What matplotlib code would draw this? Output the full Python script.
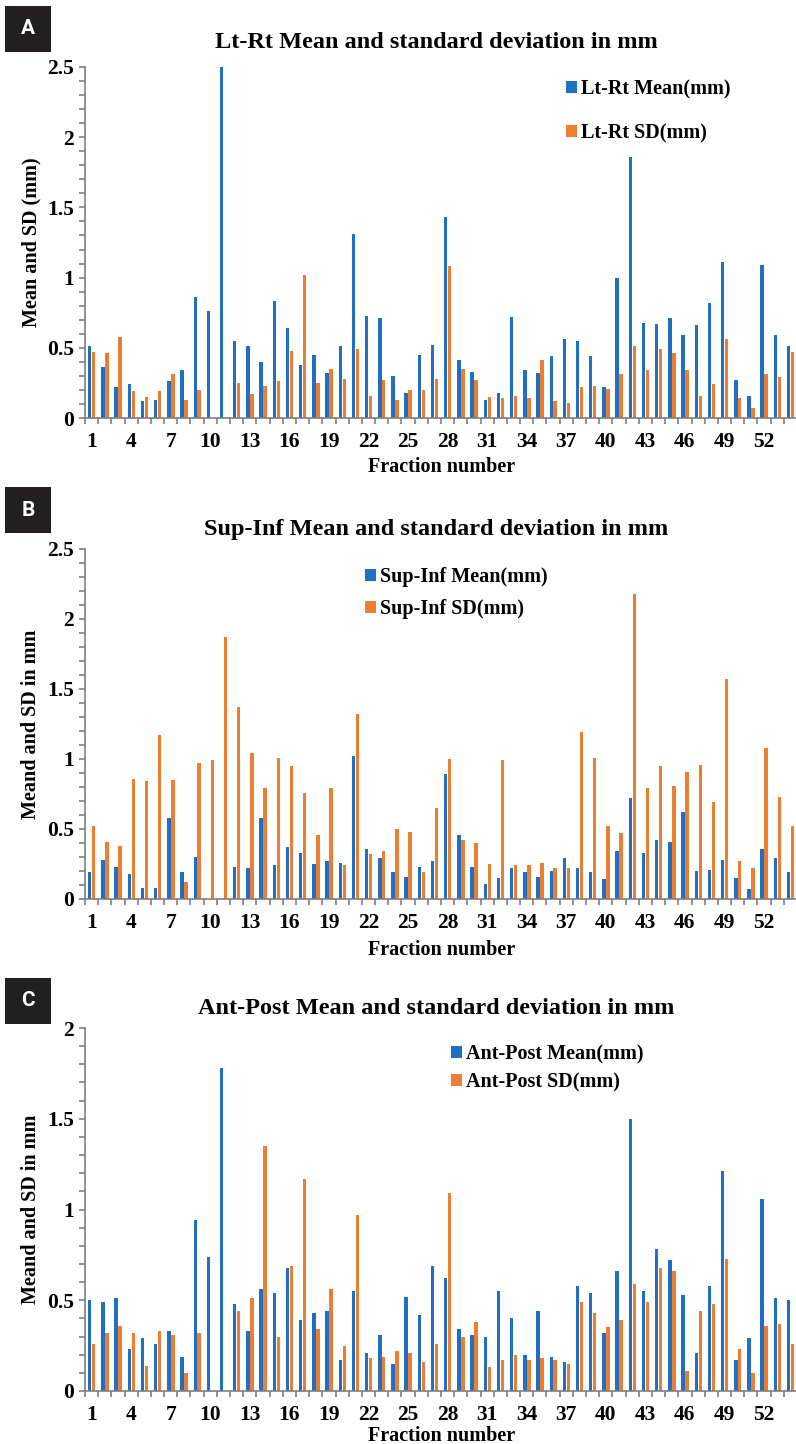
import matplotlib.pyplot as plt
import numpy as np
from matplotlib.patches import Rectangle
from matplotlib.ticker import MultipleLocator, FixedLocator, FuncFormatter

# Fraction numbers 1..54
fractions = list(range(1, 55))
tick_labels = [str(f) for f in range(1, 55, 3)]

# Panel A - Lt-Rt
ltrt_mean = [0.51, 0.36, 0.22, 0.24, 0.12, 0.13, 0.26, 0.34, 0.86, 0.76,
             2.50, 0.55, 0.51, 0.40, 0.83, 0.64, 0.38, 0.45, 0.32, 0.51,
             1.31, 0.73, 0.71, 0.30, 0.18, 0.45, 0.52, 1.43, 0.41, 0.33,
             0.13, 0.18, 0.72, 0.34, 0.32, 0.44, 0.56, 0.55, 0.44, 0.22,
             1.00, 1.86, 0.68, 0.67, 0.71, 0.59, 0.66, 0.82, 1.11, 0.27,
             0.16, 1.09, 0.59, 0.51]
ltrt_sd = [0.47, 0.46, 0.58, 0.19, 0.15, 0.19, 0.31, 0.13, 0.20, 0.0,
           0.0, 0.25, 0.17, 0.23, 0.26, 0.48, 1.02, 0.25, 0.35, 0.28,
           0.49, 0.16, 0.27, 0.13, 0.20, 0.20, 0.28, 1.08, 0.35, 0.27,
           0.15, 0.14, 0.16, 0.14, 0.41, 0.12, 0.11, 0.22, 0.23, 0.21,
           0.31, 0.51, 0.34, 0.49, 0.46, 0.34, 0.16, 0.24, 0.56, 0.14,
           0.07, 0.31, 0.29, 0.47]

# Panel B - Sup-Inf
supinf_mean = [0.19, 0.28, 0.23, 0.18, 0.08, 0.08, 0.58, 0.19, 0.30, 0.0,
               0.0, 0.23, 0.22, 0.58, 0.24, 0.37, 0.33, 0.25, 0.27, 0.26,
               1.02, 0.36, 0.29, 0.19, 0.16, 0.23, 0.27, 0.89, 0.46, 0.23,
               0.11, 0.15, 0.22, 0.19, 0.16, 0.20, 0.29, 0.22, 0.19, 0.14,
               0.34, 0.72, 0.33, 0.42, 0.41, 0.62, 0.20, 0.21, 0.28, 0.15,
               0.07, 0.36, 0.29, 0.19]
supinf_sd = [0.52, 0.41, 0.38, 0.86, 0.84, 1.17, 0.85, 0.12, 0.97, 0.99,
             1.87, 1.37, 1.04, 0.79, 1.01, 0.95, 0.76, 0.46, 0.79, 0.24,
             1.32, 0.32, 0.34, 0.50, 0.48, 0.19, 0.65, 1.00, 0.42, 0.40,
             0.25, 0.99, 0.24, 0.24, 0.26, 0.22, 0.22, 1.19, 1.01, 0.52,
             0.47, 2.18, 0.79, 0.95, 0.81, 0.91, 0.96, 0.69, 1.57, 0.27,
             0.22, 1.08, 0.73, 0.52]

# Panel C - Ant-Post
antpost_mean = [0.50, 0.49, 0.51, 0.23, 0.29, 0.26, 0.33, 0.19, 0.94, 0.74,
                1.78, 0.48, 0.33, 0.56, 0.54, 0.68, 0.39, 0.43, 0.44, 0.17,
                0.55, 0.21, 0.31, 0.15, 0.52, 0.42, 0.69, 0.62, 0.34, 0.31,
                0.30, 0.55, 0.40, 0.20, 0.44, 0.19, 0.16, 0.58, 0.54, 0.32,
                0.66, 1.50, 0.55, 0.78, 0.72, 0.53, 0.21, 0.58, 1.21, 0.17,
                0.29, 1.06, 0.51, 0.50]
antpost_sd = [0.26, 0.32, 0.36, 0.32, 0.14, 0.33, 0.31, 0.10, 0.32, 0.0,
              0.0, 0.44, 0.51, 1.35, 0.30, 0.69, 1.17, 0.34, 0.56, 0.25,
              0.97, 0.18, 0.19, 0.22, 0.21, 0.16, 0.26, 1.09, 0.30, 0.38,
              0.13, 0.17, 0.20, 0.17, 0.18, 0.17, 0.15, 0.49, 0.43, 0.35,
              0.39, 0.59, 0.49, 0.68, 0.66, 0.11, 0.44, 0.48, 0.73, 0.23,
              0.10, 0.36, 0.37, 0.26]

BLUE = '#1f6fc5'
ORANGE = '#ed7d31'
GREY = '#7f7f7f'
SERIF = 'Liberation Serif'

W, H = 796, 1444
fig = plt.figure(figsize=(W / 100, H / 100), dpi=100)


def px(x, y):
    # pixel coords (top-left origin) -> figure fraction
    return x / W, 1 - y / H


panels = [
    # letter, title, ylabel, mean, sd, names, ymax, axes top/bottom px, title y, box y, legend (x, y, spacing), xlabel y
    ('A', 'Lt-Rt Mean and standard deviation in mm', 'Mean and SD (mm)',
     ltrt_mean, ltrt_sd, ('Lt-Rt Mean(mm)', 'Lt-Rt SD(mm)'), 2.5,
     67, 418, 42, 6, (566, 79, 1.2), 467),
    ('B', 'Sup-Inf Mean and standard deviation in mm', 'Meand and SD in mm',
     supinf_mean, supinf_sd, ('Sup-Inf Mean(mm)', 'Sup-Inf SD(mm)'), 2.5,
     549, 899, 530, 487, (365, 567, 0.6), 950),
    ('C', 'Ant-Post Mean and standard deviation in mm', 'Meand and SD in mm',
     antpost_mean, antpost_sd, ('Ant-Post Mean(mm)', 'Ant-Post SD(mm)'), 2.0,
     1028, 1391, 1008, 978, (451, 1044, 0.4), 1436),
]

x = np.array(fractions)
left_px, right_px = 85, 797

for (letter, title, ylabel, mean, sd, names, ymax,
     top_px, bot_px, title_y, box_y, leg, xlab_y) in panels:
    l, b = px(left_px, bot_px)
    ax = fig.add_axes([l, b, (right_px - left_px) / W, (bot_px - top_px) / H])

    b1 = ax.bar(x - 0.14, mean, width=0.26, color=BLUE, label=names[0])
    b2 = ax.bar(x + 0.16, sd, width=0.26, color=ORANGE, label=names[1])

    ax.set_xlim(0.5, 54.5)
    ax.set_ylim(0, ymax)

    for side in ['top', 'right']:
        ax.spines[side].set_visible(False)
    for side in ['left', 'bottom']:
        ax.spines[side].set_color(GREY)
        ax.spines[side].set_linewidth(1.2)

    # x: labels every 3rd fraction, tick marks between categories
    ax.xaxis.set_major_locator(FixedLocator(list(range(1, 55, 3))))
    ax.set_xticklabels(tick_labels)
    ax.xaxis.set_minor_locator(FixedLocator(np.arange(0.5, 55, 1)))
    ax.tick_params(axis='x', which='major', length=0, pad=10)
    ax.tick_params(axis='x', which='minor', length=4, width=1.2, color=GREY, direction='out')

    # y: labels every 0.5, ticks every 0.1
    ax.yaxis.set_major_locator(MultipleLocator(0.5))
    ax.yaxis.set_minor_locator(MultipleLocator(0.1))
    ax.yaxis.set_major_formatter(FuncFormatter(lambda v, p: f'{v:g}'))
    ax.tick_params(axis='y', which='both', length=4, width=1.2, color=GREY, direction='out', pad=4)

    for lab in ax.get_xticklabels() + ax.get_yticklabels():
        lab.set_fontfamily(SERIF)
        lab.set_fontweight('bold')
        lab.set_fontsize(15.5)

    fig.text(31 / W, 1 - (top_px + bot_px) / 2 / H, ylabel, rotation=90,
             ha='center', va='center', family=SERIF, weight='bold', fontsize=14.5)
    fig.text(442 / W, 1 - xlab_y / H, 'Fraction number', ha='center', va='center',
             family=SERIF, weight='bold', fontsize=14.5)
    fig.text(436 / W, 1 - title_y / H, title, ha='center', va='center',
             family=SERIF, weight='bold', fontsize=17.5)

    # panel letter box
    bx, by = px(5, box_y + 46)
    fig.patches.append(Rectangle((bx, by), 46 / W, 46 / H, transform=fig.transFigure,
                                 facecolor='#231f20', edgecolor='none'))
    fig.text(28 / W, 1 - (box_y + 23) / H, letter, ha='center', va='center',
             color='white', family='Roboto', weight='bold', fontsize=15)

    lx, ly = px(leg[0], leg[1])
    ax.legend(handles=[b1, b2], loc='upper left', bbox_to_anchor=(lx, ly),
              bbox_transform=fig.transFigure, frameon=False, borderpad=0,
              borderaxespad=0, handlelength=0.55, handleheight=0.55,
              handletextpad=0.2, labelspacing=leg[2],
              prop={'family': SERIF, 'weight': 'bold', 'size': 14.5})

fig.savefig('out.png', dpi=100)
